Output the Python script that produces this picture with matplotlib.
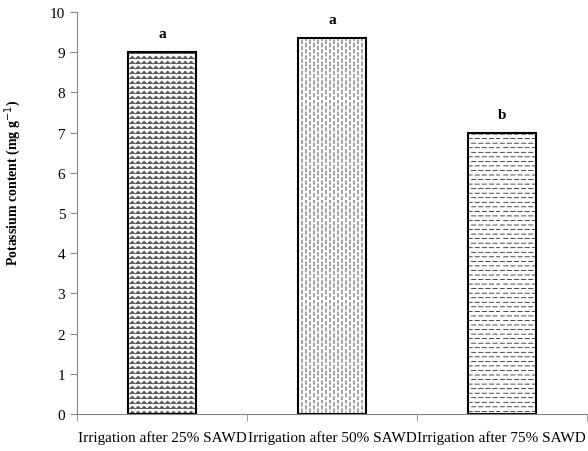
import warnings

import numpy as np
import matplotlib
matplotlib.use("Agg")
import matplotlib.pyplot as plt
from matplotlib import hatch as mhatch
from matplotlib.colors import to_rgba
from matplotlib.path import Path

warnings.filterwarnings("ignore")

plt.rcParams["font.family"] = "Liberation Serif"
plt.rcParams["hatch.linewidth"] = 0.5

treatments = [
    "Irrigation after 25% SAWD",
    "Irrigation after 50% SAWD",
    "Irrigation after 75% SAWD",
]
potassium = [9.0, 9.35, 7.0]
groups = ["a", "a", "b"]
fills = ["z", "k", "q"]
fill_colors = ["#5a5a5a", "black", "black"]


###########################################################
# Custom fill patterns (unit cell is one hatch square)
###########################################################

class ZigZagHatch(mhatch.HatchPatternBase):
    # rows of zigzag lines
    def __init__(self, hatch, density):
        self.rows = 20 if "z" in hatch else 0
        self.teeth = 17
        self.num_vertices = self.rows * (2 * self.teeth + 1)

    def set_vertices_and_codes(self, vertices, codes):
        n = 2 * self.teeth + 1
        xs = np.linspace(0, 1, n)
        amp = 0.3 / self.rows
        for r in range(self.rows):
            y0 = (r + 0.5) / self.rows
            ys = y0 + amp * np.where(np.arange(n) % 2 == 0, -1, 1)
            sl = slice(r * n, (r + 1) * n)
            vertices[sl, 0] = xs
            vertices[sl, 1] = ys
            codes[sl] = Path.LINETO
            codes[r * n] = Path.MOVETO


class DashHatch(mhatch.HatchPatternBase):
    # staggered short dashes, vertical ("k") or horizontal ("q")
    def __init__(self, hatch, density):
        self.vertical = "k" in hatch
        self.active = self.vertical or "q" in hatch
        if self.vertical:
            self.lines, self.dashes, self.frac = 25, 16, 0.6
        else:
            self.lines, self.dashes, self.frac = 22, 14, 0.62
        self.num_vertices = 2 * self.lines * self.dashes if self.active else 0

    def set_vertices_and_codes(self, vertices, codes):
        i = 0
        for ln in range(self.lines):
            c = (ln + 0.5) / self.lines
            shift = 0.5 * (ln % 2)
            for d in range(self.dashes):
                a = (d + shift) / self.dashes
                b = a + self.frac / self.dashes
                if self.vertical:
                    vertices[i] = (c, a)
                    vertices[i + 1] = (c, b)
                else:
                    vertices[i] = (a, c)
                    vertices[i + 1] = (b, c)
                codes[i] = Path.MOVETO
                codes[i + 1] = Path.LINETO
                i += 2


mhatch._hatch_types.extend([ZigZagHatch, DashHatch])


###########################################################
# Plot
###########################################################

fig = plt.figure(figsize=(5.88, 4.52), dpi=100)
ax = fig.add_axes([0.131, 0.082, 0.867, 0.889])

x = np.arange(len(treatments))
bars = ax.bar(
    x,
    potassium,
    width=0.4,
    color="white",
    edgecolor="black",
    linewidth=1.5,
    hatch=fills,
)

# lighter pattern ink where needed
for b, c in zip(bars, fill_colors):
    if hasattr(b, "set_hatchcolor"):
        b.set_hatchcolor(c)
    else:
        b._hatch_color = to_rgba(c)

for xi, val, g in zip(x, potassium, groups):
    ax.text(xi, val + 0.3, g, ha="center", va="bottom",
            fontsize=11, fontweight="bold")

ax.set_xlim(-0.5, 2.5)
ax.set_ylim(0, 10)
ax.set_yticks(range(0, 11))
ax.set_xticks(x)
ax.set_xticklabels(treatments, fontsize=11)
ax.set_xticks([-0.5, 0.5, 1.5, 2.5], minor=True)
ax.tick_params(axis="x", which="major", length=0, pad=12)
ax.tick_params(axis="x", which="minor", length=5, color="#868686")
ax.tick_params(axis="y", length=5, color="#868686", labelsize=11)

for side in ["top", "right"]:
    ax.spines[side].set_visible(False)
for side in ["left", "bottom"]:
    ax.spines[side].set_color("#868686")
    ax.spines[side].set_linewidth(0.8)

ax.set_ylabel("Potassium content (mg g$^{-1}$)", fontsize=10,
              fontweight="bold")
ax.yaxis.set_label_coords(-0.106, 0.577)

fig.savefig("out.png", dpi=100)
